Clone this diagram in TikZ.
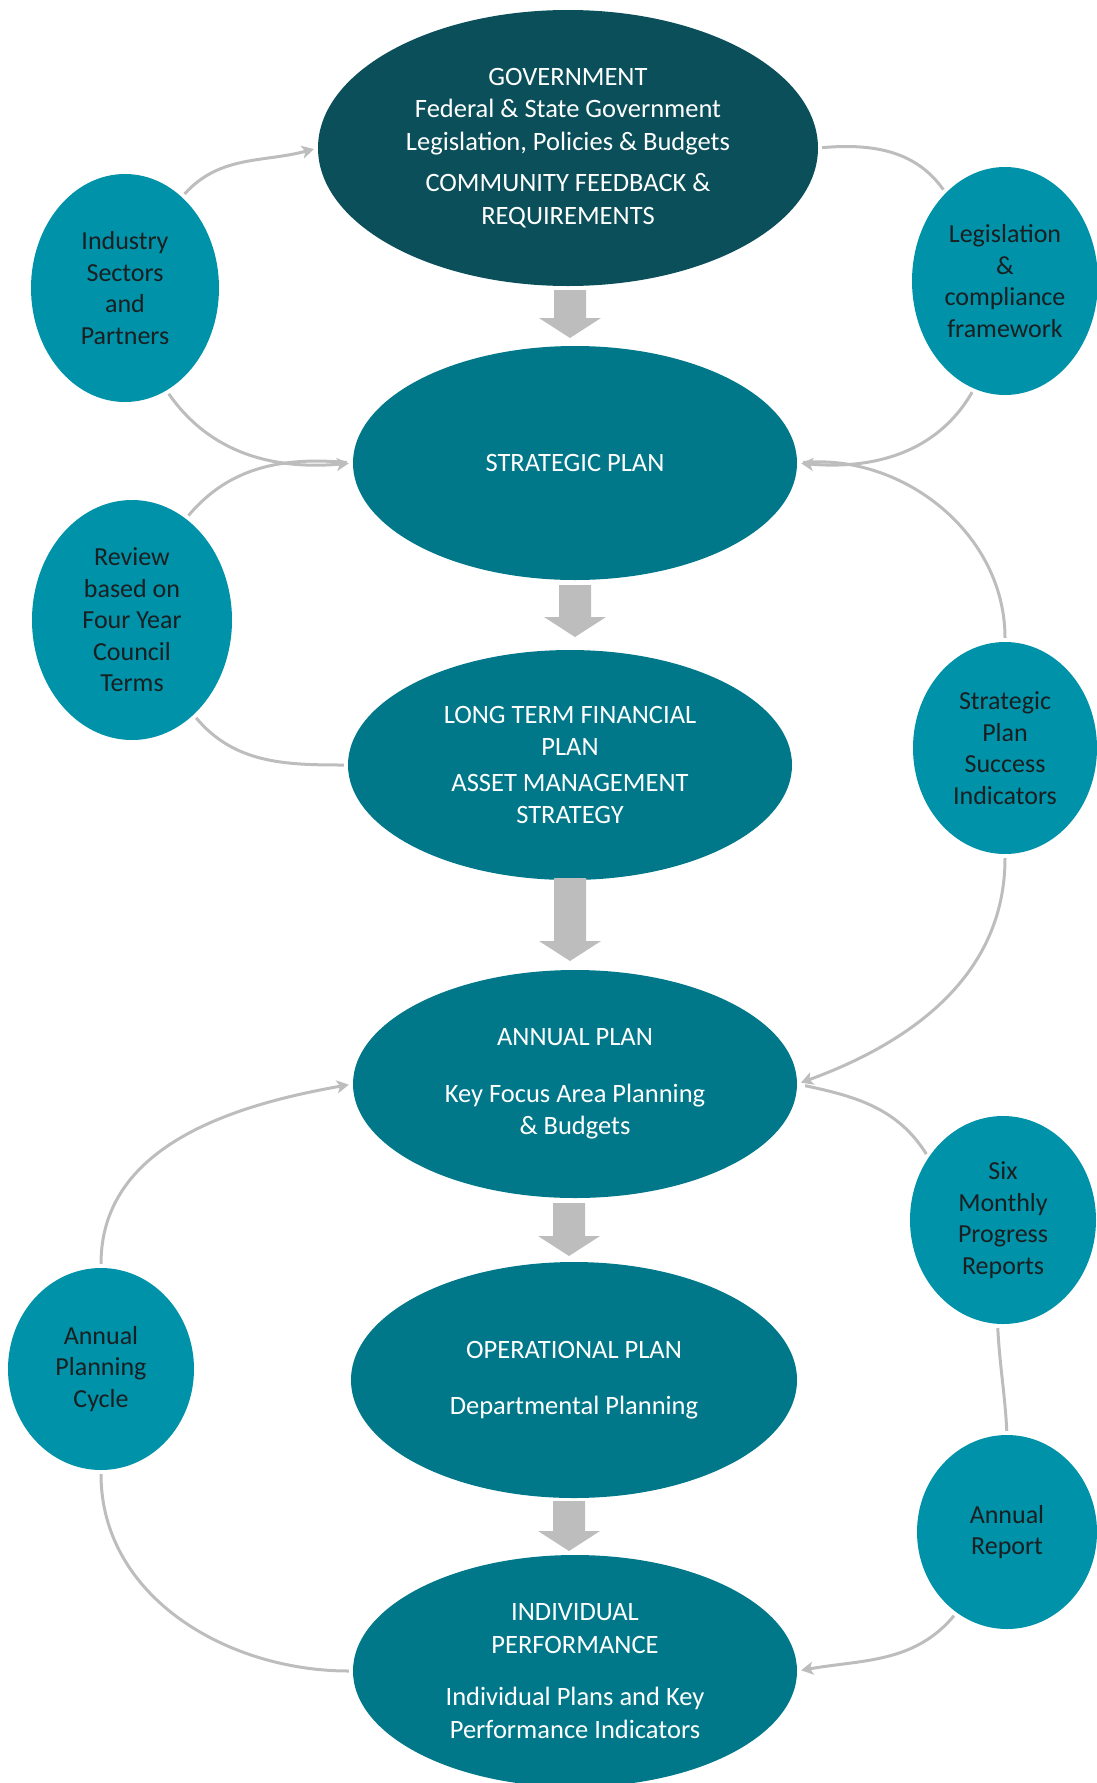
\documentclass[tikz,border=0pt]{standalone}
\usepackage{fontspec}
\setmainfont{Carlito}
\usetikzlibrary{arrows.meta,shapes.geometric}
\definecolor{govcol}{HTML}{0A4F5A}
\definecolor{maincol}{HTML}{00788A}
\definecolor{sidecol}{HTML}{0092A8}
\definecolor{linecol}{HTML}{BDBDBD}
\definecolor{sidetext}{HTML}{1A1F22}
\tikzset{
  mainell/.style={ellipse, fill=maincol, inner sep=0pt, align=center, text=white,
     font=\fontsize{26.5}{32.5}\selectfont},
  sideell/.style={ellipse, fill=sidecol, inner sep=0pt, align=center, text=sidetext,
     font=\fontsize{26}{31.5}\selectfont},
  link/.style={draw=linecol, line width=3pt},
  linkarrow/.style={link, -{Stealth[length=12pt,width=13pt,inset=3pt]}},
  blockarrow/.style={fill=linecol}
}
\newcommand{\blockdown}[3]{%
  \fill[blockarrow] ({#1-16},#2) -- ({#1+16},#2) -- ({#1+16},{#3-20}) -- ({#1+31},{#3-20})
    -- (#1,#3) -- ({#1-31},{#3-20}) -- ({#1-16},{#3-20}) -- cycle;}
\begin{document}
\begin{tikzpicture}[x=1pt,y=-1pt]
\useasboundingbox (0,0) rectangle (1096,1783);
% main ellipses
\node[mainell, fill=govcol, minimum width=500pt, minimum height=276pt] (gov) at (568,148)
  {GOVERNMENT\\Federal \& State Government\\Legislation, Policies \& Budgets\\[9pt]COMMUNITY FEEDBACK \&\\REQUIREMENTS};
\node[mainell, minimum width=444pt, minimum height=234pt] (sp) at (575,463) {STRATEGIC PLAN};
\node[mainell, minimum width=444pt, minimum height=230pt] (ltfp) at (570,765)
  {LONG TERM FINANCIAL\\PLAN\\[3pt]ASSET MANAGEMENT\\STRATEGY};
\node[mainell, minimum width=444pt, minimum height=228pt] (ap) at (575,1084)
  {ANNUAL PLAN\\[24pt]Key Focus Area Planning\\\& Budgets};
\node[mainell, minimum width=446pt, minimum height=236pt] (op) at (574,1380)
  {OPERATIONAL PLAN\\[23pt]Departmental Planning};
\node[mainell, minimum width=444pt, minimum height=232pt] (ip) at (575,1671)
  {INDIVIDUAL\\PERFORMANCE\\[20pt]Individual Plans and Key\\Performance Indicators};
% side ellipses
\node[sideell, minimum width=188pt, minimum height=228pt] (ind) at (125,288)
  {Industry\\Sectors\\and\\Partners};
\node[sideell, minimum width=186pt, minimum height=228pt] (leg) at (1005,281)
  {Legislation\\\&\\compliance\\framework};
\node[sideell, minimum width=200pt, minimum height=240pt] (rev) at (132,620)
  {Review\\based on\\Four Year\\Council\\Terms};
\node[sideell, minimum width=184pt, minimum height=212pt] (spsi) at (1005,748)
  {Strategic\\Plan\\Success\\Indicators};
\node[sideell, minimum width=186pt, minimum height=208pt] (six) at (1003,1220)
  {Six\\Monthly\\Progress\\Reports};
\node[sideell, minimum width=186pt, minimum height=202pt] (apc) at (101,1369)
  {Annual\\Planning\\Cycle};
\node[sideell, minimum width=180pt, minimum height=194pt] (ar) at (1007,1532)
  {Annual\\Report};
% block arrows
\blockdown{570}{290}{338}
\blockdown{575}{585}{637}
\blockdown{570}{878}{961}
\blockdown{569}{1203}{1256}
\blockdown{569}{1501}{1551}
% connectors
\draw[linkarrow, shorten <=4pt, shorten >=4pt] (ind.58) to[out=48,in=195] (gov.west);
\draw[link, shorten <=4pt, shorten >=4pt] (gov.east) to[out=5,in=125] (leg.124);
\draw[linkarrow, shorten <=4pt, shorten >=4pt] (ind.-68) to[out=-55,in=185] (sp.west);
\draw[link, shorten <=4pt, shorten >=6pt] (rev.62) to[out=50,in=175] (sp.west);
\draw[linkarrow, shorten <=4pt, shorten >=4pt] (leg.-106) to[out=-120,in=-5] (sp.east);
\draw[link, shorten <=4pt, shorten >=6pt] (spsi.north) to[out=90,in=5] (sp.east);
\draw[link, shorten <=4pt, shorten >=4pt] (rev.-57) to[out=-50,in=180] (ltfp.west);
\draw[linkarrow, shorten <=4pt, shorten >=4pt] (spsi.south) to[out=-90,in=20] (ap.east);
\draw[link, shorten <=4pt, shorten >=8pt] (six.140) to[out=122,in=-12] (ap.east);
\draw[linkarrow, shorten <=4pt, shorten >=4pt] (apc.north) to[out=90,in=190] (ap.west);
\draw[link, shorten <=4pt, shorten >=4pt] (apc.south) to[out=-90,in=180] (ip.west);
\draw[link, shorten <=4pt, shorten >=4pt] (six.-93) to[out=-87,in=93] (ar.north);
\draw[linkarrow, shorten <=4pt, shorten >=4pt] (ar.-122) to[out=-130,in=10] (ip.east);
\end{tikzpicture}
\end{document}
